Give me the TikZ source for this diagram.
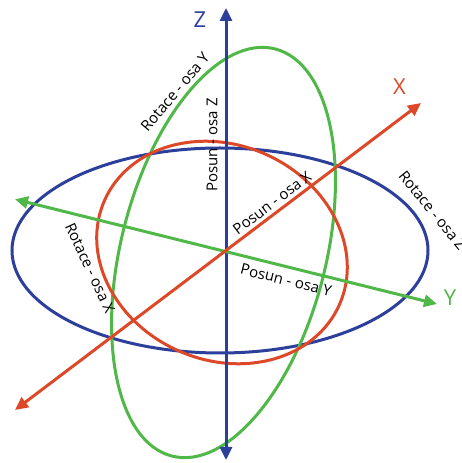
\documentclass[tikz,border=0pt]{standalone}
\usepackage{fontspec}
\setmainfont{Open Sans}
\usetikzlibrary{arrows.meta}
\definecolor{axblue}{RGB}{43,63,155}
\definecolor{axred}{RGB}{221,73,40}
\definecolor{axgreen}{RGB}{80,184,72}
\begin{document}
\begin{tikzpicture}[x=1pt,y=1pt,
  curve/.style={line width=3pt},
  axisline/.style={line width=3pt,{Triangle[length=13pt,width=12pt]}-{Triangle[length=13pt,width=12pt]}},
  lbl/.style={font=\fontsize{15}{17}\selectfont,inner sep=0pt},
  axlbl/.style={font=\fontsize{22}{24}\selectfont,inner sep=0pt}]
\useasboundingbox (0,0) rectangle (461,463);
% orbits
\draw[curve,axblue] (220,212.5) ellipse (208 and 102.5);
\draw[curve,axgreen,rotate around={75.8:(223.5,210.5)}] (223.5,210.5) ellipse (210 and 102.5);
\draw[curve,axred,rotate around={-24:(222,210.5)}] (222,210.5) ellipse (128.5 and 107.5);
% axes
\coordinate (zt) at (226,455);
\coordinate (zb) at (226,3);
\coordinate (xt) at (421,360);
\coordinate (xb) at (15,53);
\coordinate (yl) at (15,263.7);
\coordinate (yr) at (437,159);
\draw[axisline,axblue] (zb) -- (zt);
\draw[axisline,axgreen] (yl) -- (yr);
\draw[axisline,axred] (xb) -- (xt);
% axis letters
\node[axlbl,text=axblue] (lz) at (200,443) {Z};
\node[axlbl,text=axred] (lx) at (399.5,376) {X};
\node[axlbl,text=axgreen] (ly) at (450,165) {Y};
% labels
\node[lbl,rotate=50] (rY) at (175,371) {Rotace - osa Y};
\node[lbl,rotate=90] (pZ) at (212,318) {Posun - osa Z};
\node[lbl,rotate=37] (pX) at (272,260) {Posun - osa X};
\node[lbl,rotate=-14] (pY) at (286,183) {Posun - osa Y};
\node[lbl,rotate=-65] (rX) at (90,195) {Rotace - osa X};
\node[lbl,rotate=-51] (rZ) at (432.5,252.5) {Rotace - osa Z};
\end{tikzpicture}
\end{document}
